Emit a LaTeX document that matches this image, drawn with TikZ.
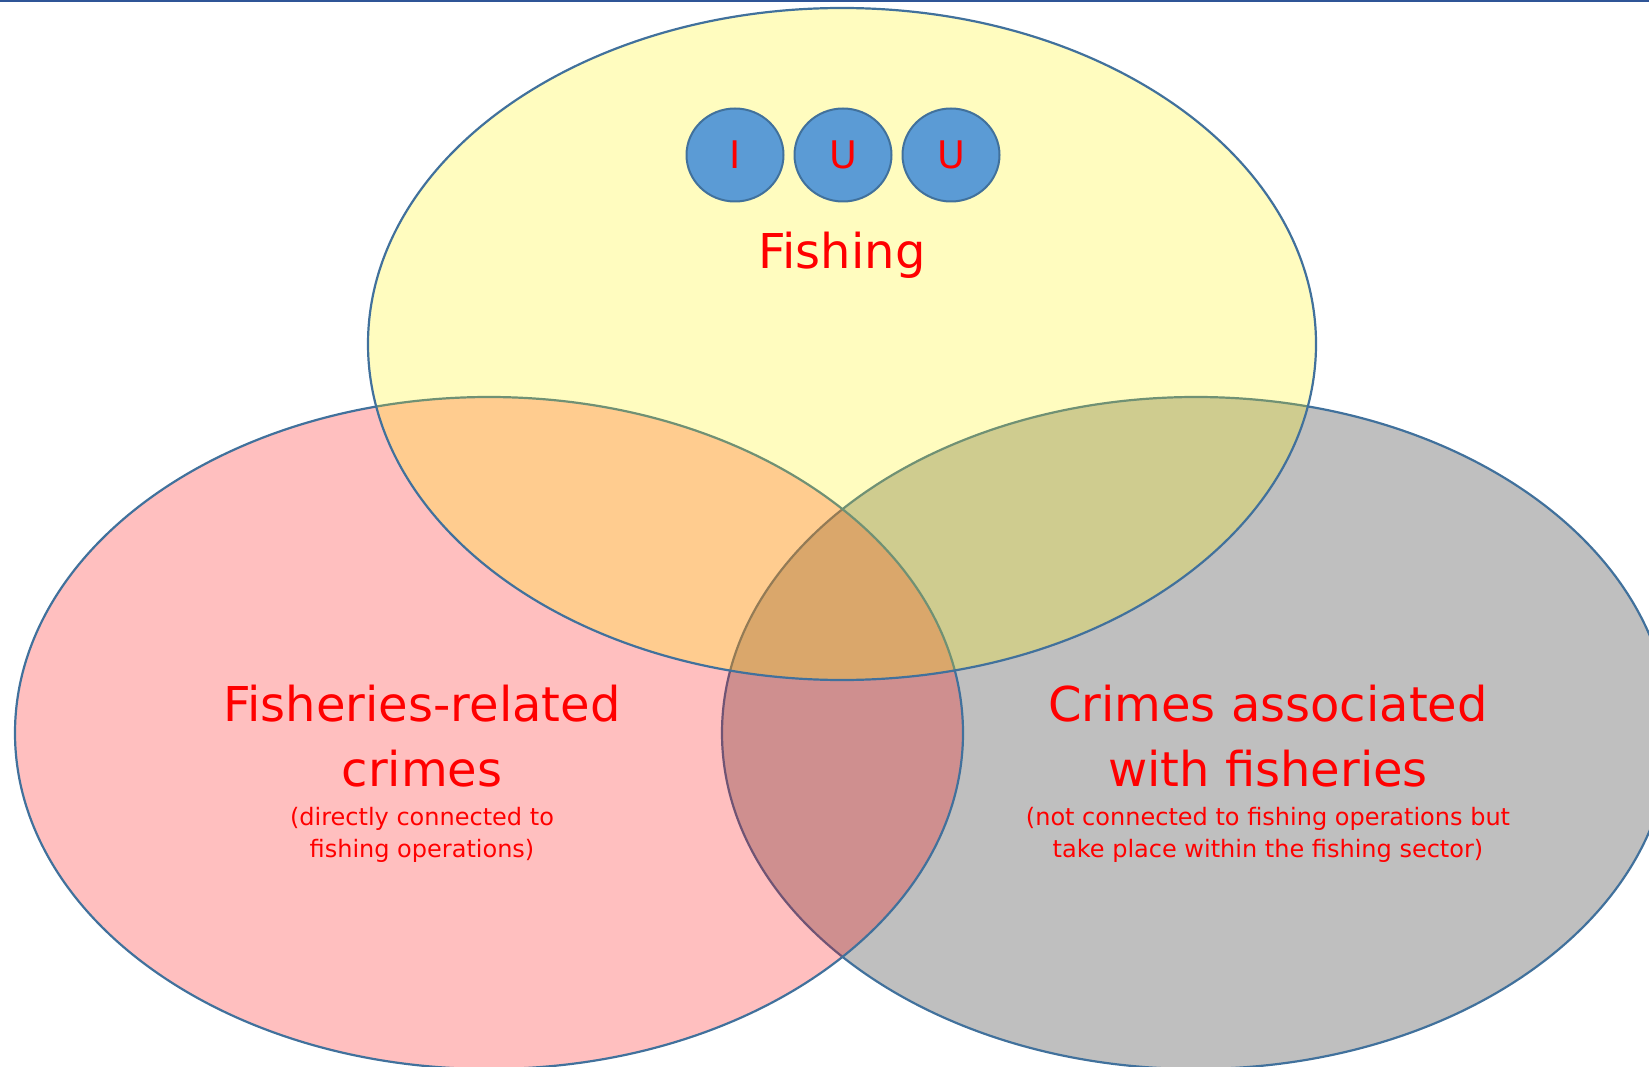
\documentclass[tikz,border=0pt]{standalone}
\usepackage{fontspec}
\setmainfont{DejaVu Sans}
\usepackage{xcolor}
\definecolor{edge}{RGB}{65,113,156}
\definecolor{iuublue}{RGB}{91,155,213}
\definecolor{topline}{RGB}{47,85,151}
\usetikzlibrary{shapes.geometric}

\begin{document}
\begin{tikzpicture}[x=1pt, y=-1pt,
  venn/.style={ellipse, draw=edge, line width=2.2pt, fill opacity=0.25, inner sep=0pt, minimum width=948pt, minimum height=672pt},
  iuu/.style={ellipse, draw=edge, line width=2pt, fill=iuublue, inner sep=0pt, minimum width=97pt, minimum height=93pt, text=red, font=\fontsize{38}{46}\selectfont},
  big/.style={text=red, align=center, font=\fontsize{48}{65}\selectfont},
  small/.style={text=red, align=center, font=\fontsize{24}{32}\selectfont}]
\useasboundingbox (0,0) rectangle (1649,1067);
\draw[topline, line width=2pt] (0,1) -- (1649,1);
% the three sets
\node[venn, fill=black] (assoc) at (1196,733) {};
\node[venn, fill=red] (related) at (489,733) {};
\node[venn, fill=yellow] (fishing) at (842,344) {};
% I U U
\foreach \x/\l in {735/I, 843/U, 951/U}{
\node[iuu] (iuu\x) at (\x,155) {\l};
}
\node[big] (fishtxt) at (842,255) {Fishing};
\node[big] (reltxt) at (422,736) {Fisheries-related\\crimes};
\node[small] (relsub) at (422,835) {(directly connected to\\fishing operations)};
\node[big] (asstxt) at (1268,736) {Crimes associated\\with fisheries};
\node[small] (asssub) at (1268,835) {(not connected to fishing operations but\\take place within the fishing sector)};
\end{tikzpicture}
\end{document}
